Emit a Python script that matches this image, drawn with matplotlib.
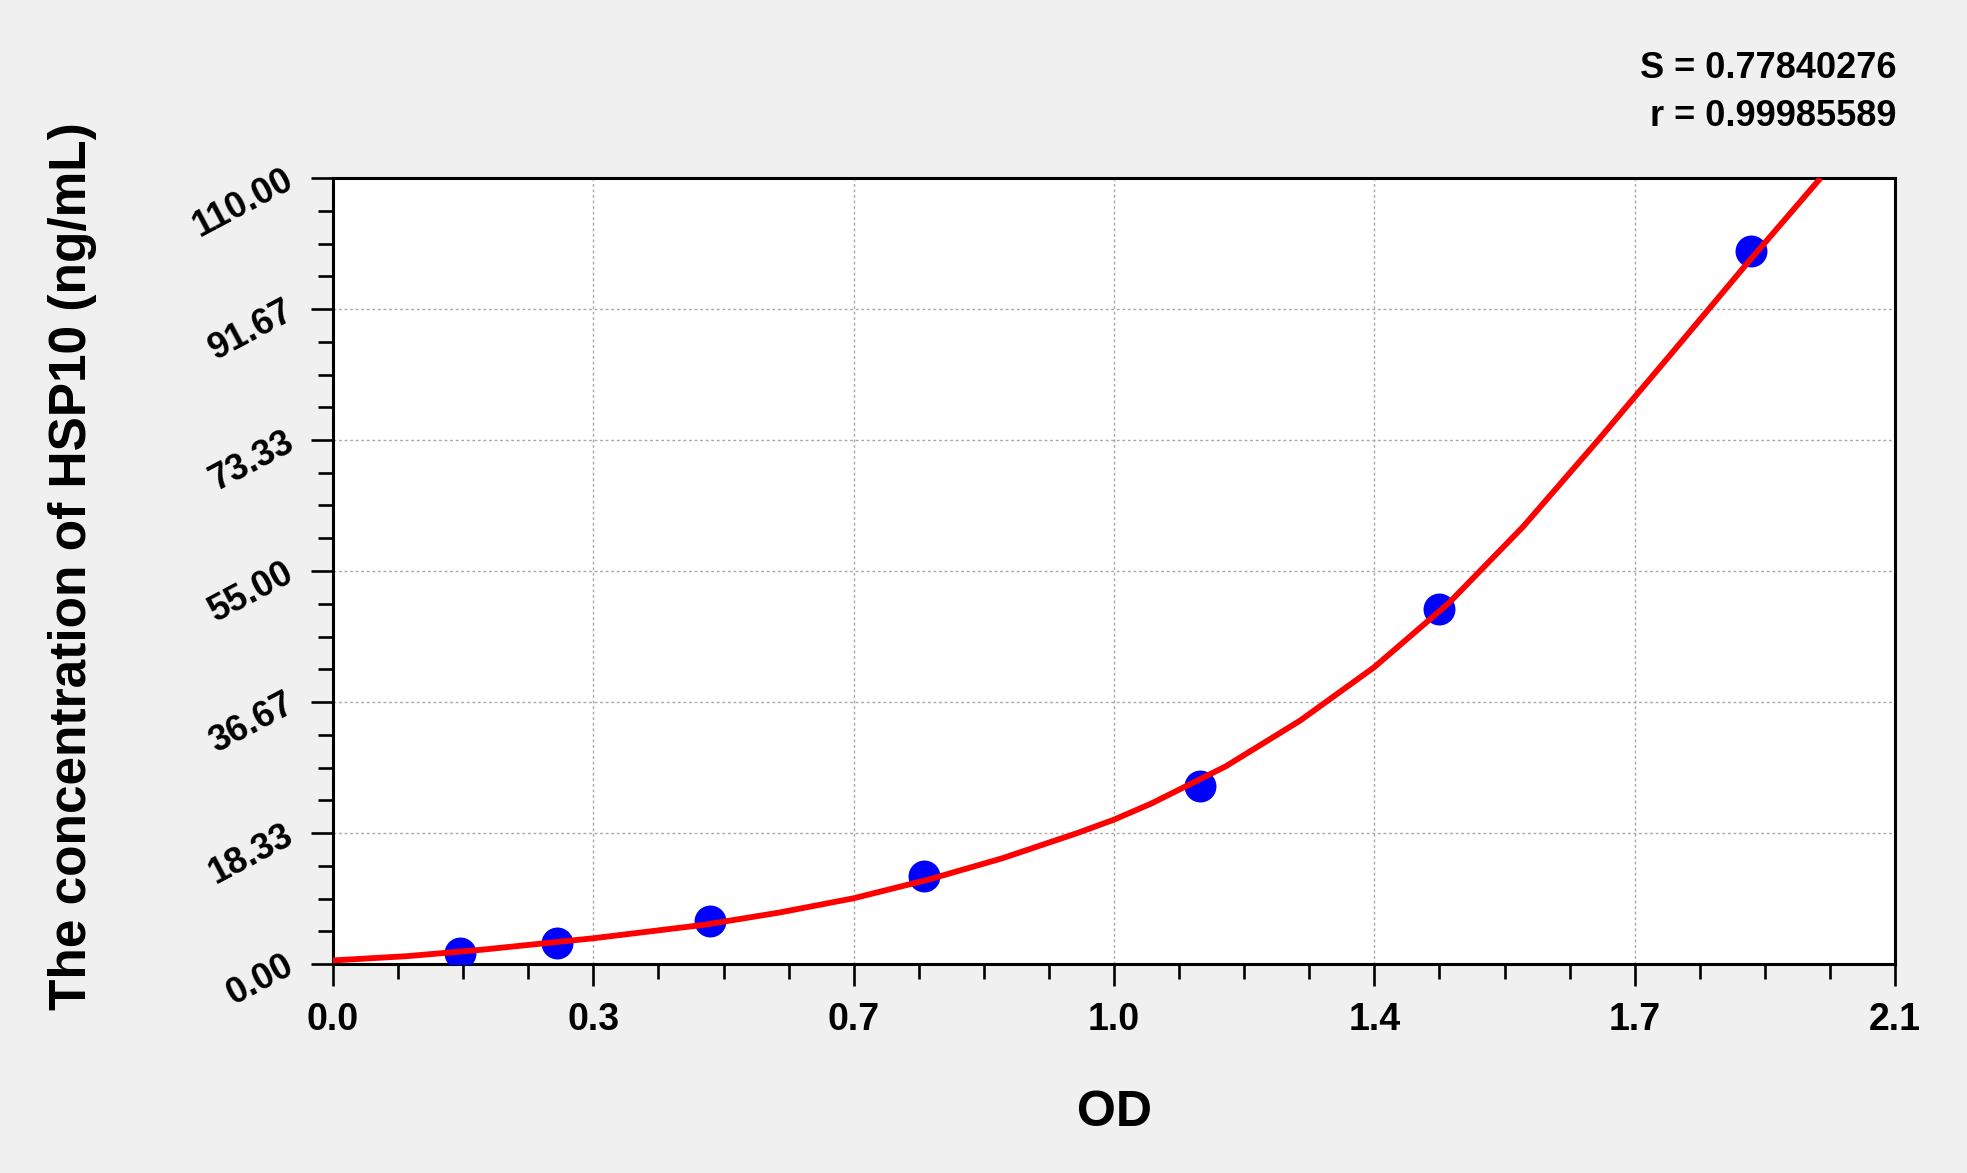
import numpy as np
import matplotlib
matplotlib.use("Agg")
import matplotlib.pyplot as plt
from matplotlib.ticker import MultipleLocator, FixedLocator

# ---- data ----
od_points = [0.171, 0.301, 0.507, 0.794, 1.166, 1.487, 1.907]
conc_points = [1.5, 2.9, 6.0, 12.3, 24.9, 49.7, 99.8]

curve_od = [0.0, 0.1, 0.2, 0.35, 0.5, 0.6, 0.7, 0.8, 0.9, 1.0, 1.05, 1.1,
            1.2, 1.3, 1.4, 1.5, 1.6, 1.7, 1.8, 1.9, 2.0]
curve_conc = [0.5, 1.1, 2.0, 3.6, 5.5, 7.2, 9.2, 11.8, 14.8, 18.3, 20.2, 22.45,
              27.65, 34.05, 41.55, 50.5, 61.2, 73.2, 85.5, 97.9, 110.0]

x_tick_values = [0.0, 0.35, 0.70, 1.05, 1.40, 1.75, 2.10]
x_tick_labels = ["0.0", "0.3", "0.7", "1.0", "1.4", "1.7", "2.1"]
y_tick_values = [0.0, 110 / 6, 220 / 6, 55.0, 440 / 6, 550 / 6, 110.0]
y_tick_labels = ["0.00", "18.33", "36.67", "55.00", "73.33", "91.67", "110.00"]

s_text = "S = 0.77840276"
r_text = "r = 0.99985589"
x_title = "OD"
y_title = "The concentration of HSP10 (ng/mL)"

# ---- figure ----
plt.rcParams['font.family'] = ['Liberation Sans', 'DejaVu Sans']
W, H = 1967, 1173
fig = plt.figure(figsize=(W / 100, H / 100), dpi=100, facecolor='#f0f0f0')
ax = fig.add_axes([333 / W, 1 - 964 / H, (1895 - 333) / W, (964 - 178) / H])
ax.set_facecolor('white')

ax.set_xlim(0, 2.1)
ax.set_ylim(0, 110)

ax.grid(True, which='major', color='#a8a8a8', linestyle=(0, (2, 2)), linewidth=1.0)
ax.set_axisbelow(True)

ax.plot(od_points, conc_points, 'o', color='#0000ff', markersize=23,
        markeredgewidth=0, zorder=3)
ax.plot(curve_od, curve_conc, '-', color='#ff0000', linewidth=4.2,
        solid_capstyle='butt', solid_joinstyle='round', zorder=4, clip_on=True)

for sp in ax.spines.values():
    sp.set_linewidth(2.2)
    sp.set_color('black')

ax.xaxis.set_major_locator(FixedLocator(x_tick_values))
ax.set_xticklabels(x_tick_labels)
ax.xaxis.set_minor_locator(MultipleLocator(2.1 / 24))
ax.yaxis.set_major_locator(FixedLocator(y_tick_values))
ax.set_yticklabels(y_tick_labels)
ax.yaxis.set_minor_locator(MultipleLocator(110 / 24))

ax.tick_params(axis='both', which='major', direction='out', length=16, width=1.9,
               color='black')
ax.tick_params(axis='both', which='minor', direction='out', length=11, width=1.9,
               color='black')
ax.tick_params(axis='x', which='major', pad=11, labelsize=27)
ax.tick_params(axis='y', which='major', pad=14, labelsize=26)
for lab in ax.get_xticklabels():
    lab.set_fontweight('bold')
for lab in ax.get_yticklabels():
    lab.set_fontweight('bold')
    lab.set_rotation(28)
    lab.set_rotation_mode('anchor')
    lab.set_ha('right')
    lab.set_va('center')

fig.text((333 + 1895) / 2 / W, 1 - 1113 / H, x_title, ha='center', va='center',
         fontsize=36, fontweight='bold')
fig.text(73 / W, 1 - 566 / H, y_title, ha='center', va='center', rotation=90,
         fontsize=37, fontweight='bold')
fig.text(1896 / W, 1 - 68 / H, s_text, ha='right', va='center',
         fontsize=26, fontweight='bold')
fig.text(1896 / W, 1 - 117 / H, r_text, ha='right', va='center',
         fontsize=26, fontweight='bold')

fig.savefig('out.png', dpi=100, facecolor=fig.get_facecolor())
